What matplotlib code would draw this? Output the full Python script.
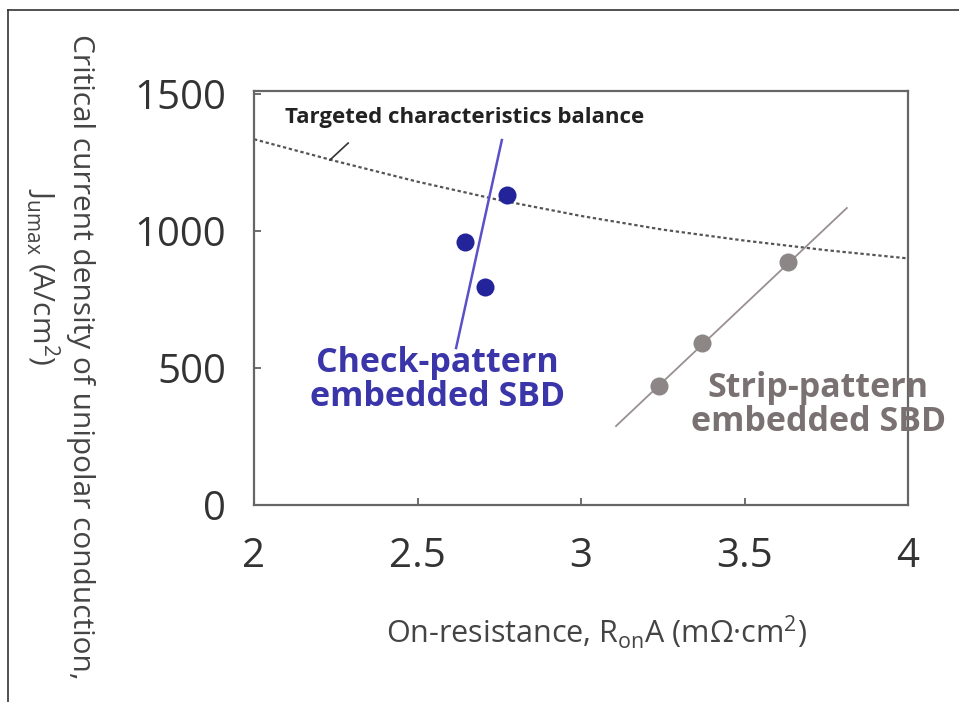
import matplotlib
matplotlib.use("Agg")
import matplotlib.pyplot as plt
from matplotlib.lines import Line2D

# Data
check_x = [2.645, 2.706, 2.774]
check_y = [960, 796, 1131]
check_fit_x = [2.618, 2.758]
check_fit_y = [573, 1332]

strip_x = [3.239, 3.370, 3.633]
strip_y = [434, 591, 887]
strip_fit_x = [3.107, 3.813]
strip_fit_y = [288, 1084]

target_x = [2.0, 2.25, 2.5, 2.75, 3.0, 3.25, 3.5, 3.75, 4.0]
target_y = [1335, 1255, 1180, 1113, 1055, 1005, 965, 930, 900]

xticks = [2, 2.5, 3, 3.5, 4]
xticklabels = ["2", "2.5", "3", "3.5", "4"]
yticks = [0, 500, 1000, 1500]
yticklabels = ["0", "500", "1000", "1500"]

plt.rcParams['font.family'] = ['Open Sans', 'DejaVu Sans']

fig = plt.figure(figsize=(9.59, 7.02), dpi=100)
ax = fig.add_axes([254/959, 1-505/702, (908-254)/959, (505-91)/702])

ax.plot(target_x, target_y, linestyle=(0, (1.5, 1.2)), color="#555555", lw=1.6)
ax.plot(check_fit_x, check_fit_y, color="#5a50c8", lw=1.8)
ax.plot(check_x, check_y, 'o', color="#24249a", ms=13, mec="none")
ax.plot(strip_fit_x, strip_fit_y, color="#9a9090", lw=1.3)
ax.plot(strip_x, strip_y, 'o', color="#8c8686", ms=13, mec="none")

ax.set_xlim(2, 4)
ax.set_ylim(0, 1511)
ax.set_xticks(xticks)
ax.set_xticklabels(xticklabels)
ax.set_yticks(yticks)
ax.set_yticklabels(yticklabels)
ax.tick_params(direction="in", length=5, width=1.2, colors="#555555",
               labelsize=29, labelcolor="#333333")
ax.tick_params(axis="y", pad=20)
ax.tick_params(axis="x", pad=23)
for s in ax.spines.values():
    s.set_color("#666666")
    s.set_linewidth(1.6)

ax.text(0.048, 0.935, "Targeted characteristics balance", transform=ax.transAxes,
        fontsize=16, fontweight="bold", color="#222222", ha="left", va="center")
ax.plot([2.232, 2.288], [1259, 1321], color="#333333", lw=1.2)

ax.text(2.56, 456, "Check-pattern\nembedded SBD", fontsize=24.5, fontweight="bold",
        color="#3a35a8", ha="center", va="center", linespacing=1.0)
ax.text(3.725, 365, "Strip-pattern\nembedded SBD", fontsize=24.5, fontweight="bold",
        color="#7a7272", ha="center", va="center", linespacing=1.0, clip_on=False)

fig.text(596/959, 1-632/702, "On-resistance, R$_{\\mathregular{on}}$A (m\u03a9\u00b7cm$^{\\mathregular{2}}$)",
         fontsize=22, color="#444444", ha="center", va="center")
fig.text(80/959, 1-357/702, "Critical current density of unipolar conduction,",
         fontsize=21.5, color="#444444", ha="center", va="center", rotation=270)
fig.text(42/959, 1-277/702, "J$_{\\mathregular{umax}}$ (A/cm$^{\\mathregular{2}}$)",
         fontsize=21.5, color="#444444", ha="center", va="center", rotation=270)

fig.add_artist(Line2D([8/959, 1], [1-10/702, 1-10/702], color="#333333", lw=1.2))
fig.add_artist(Line2D([8/959, 8/959], [0, 1-10/702], color="#333333", lw=1.2))

fig.savefig("out.png", dpi=100)
